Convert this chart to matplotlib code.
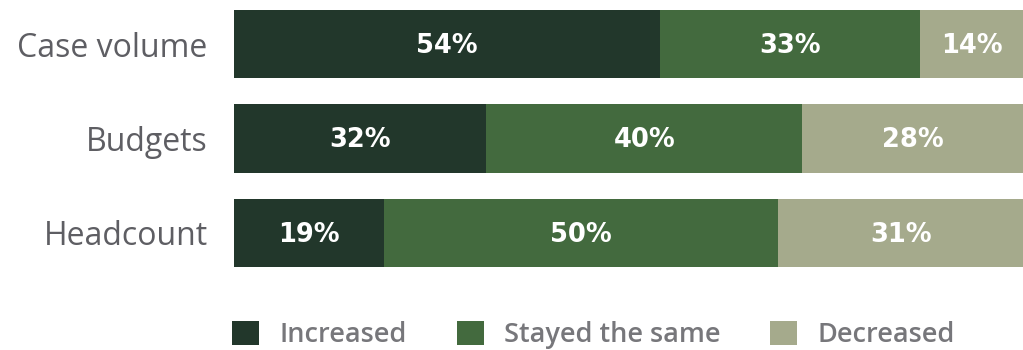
import numpy as np
import matplotlib.pyplot as plt
from matplotlib.patches import Patch

categories = ["Case volume", "Budgets", "Headcount"]
increased = [54, 32, 19]
same = [33, 40, 50]
decreased = [14, 28, 31]
series_names = ["Increased", "Stayed the same", "Decreased"]
colors = ["#22372b", "#436a3e", "#a5aa8c"]

fig = plt.figure(figsize=(10.23, 3.5), dpi=100)
ax = fig.add_axes([234 / 1023, 83 / 350, 789 / 1023, 257 / 350])

y = np.arange(len(categories))
h = 0.723
left = np.zeros(len(categories))
for vals, name, col in zip([increased, same, decreased], series_names, colors):
    vals = np.array(vals, dtype=float)
    ax.barh(y, vals, left=left, height=h, color=col, label=name)
    for yi, l, v in zip(y, left, vals):
        # segments that run past 100 get clipped, so centre on the visible part
        cx = l + (min(l + v, 100) - l) / 2
        ax.text(cx, yi + 0.02, f"{int(v)}%", ha="center", va="center",
                color="white", fontsize=18.5, fontweight="bold", family="DejaVu Sans")
    left += vals

ax.set_xlim(0, 100)
ax.set_ylim(y[-1] + h / 2, y[0] - h / 2)
ax.set_yticks(y)
ax.set_yticklabels(categories, fontsize=23, color="#5e5e63", family="Open Sans")
ax.tick_params(axis="y", length=0, pad=19)
ax.set_xticks([])
for s in ax.spines.values():
    s.set_visible(False)

handles = [Patch(facecolor=c, edgecolor="none") for c in colors]
fig.legend(handles, series_names, loc="center left",
           bbox_to_anchor=(232 / 1023, 15 / 350), ncol=3, frameon=False,
           prop={"family": "Open Sans", "weight": "semibold", "size": 19.5},
           labelcolor="#77777b", handlelength=1.0, handleheight=1.0,
           handletextpad=0.74, columnspacing=1.85, borderpad=0, borderaxespad=0)

fig.savefig("out.png", dpi=100)
